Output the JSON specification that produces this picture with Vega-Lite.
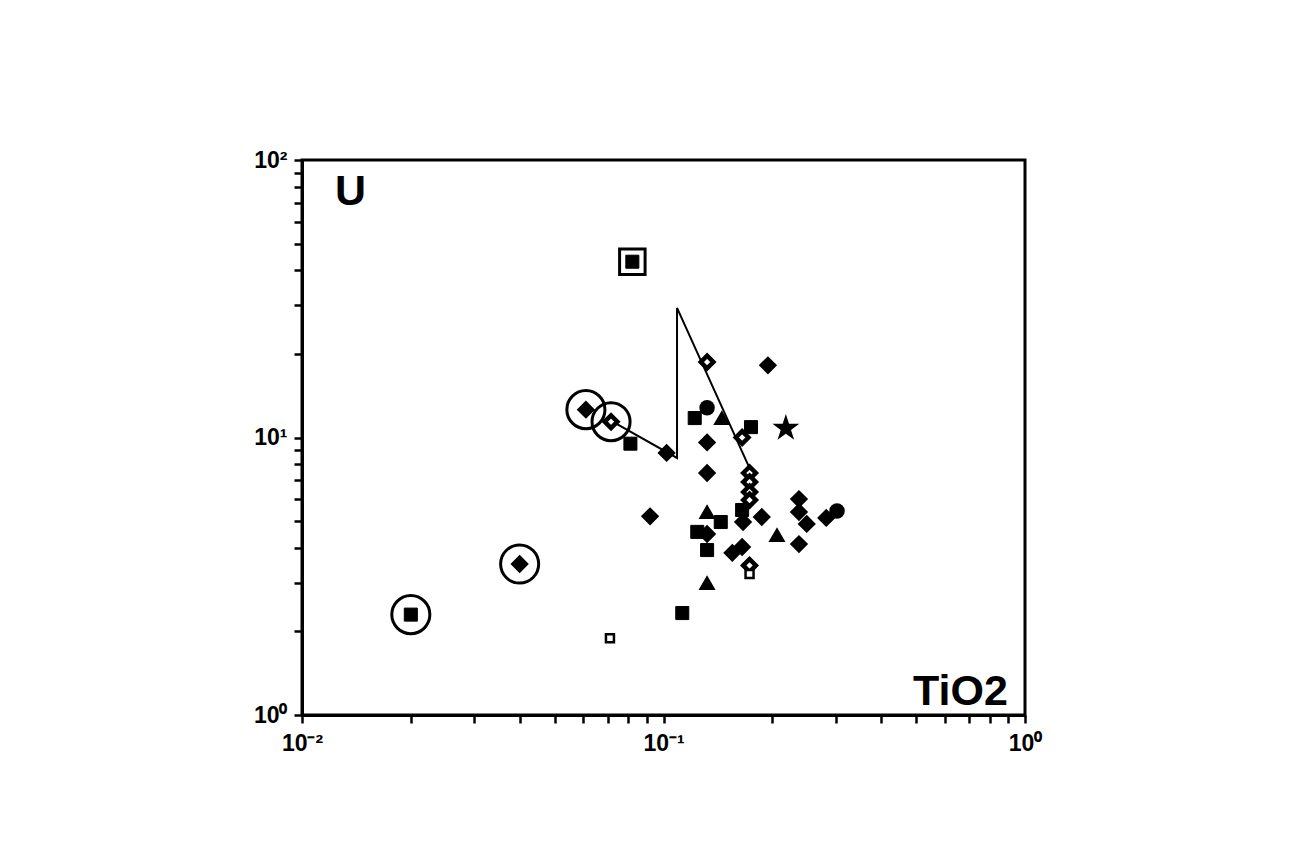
{
  "$schema": "https://vega.github.io/schema/vega-lite/v6.json",
  "autosize": "none",
  "padding": {"left": 302, "top": 160, "right": 264, "bottom": 148},
  "width": 723,
  "height": 555,
  "background": "white",
  "config": {
    "view": {"stroke": "black", "strokeWidth": 3},
    "axis": {
      "grid": false,
      "domainColor": "black",
      "domainWidth": 3,
      "tickColor": "black",
      "tickWidth": 2.5,
      "tickSize": 8,
      "labelColor": "black",
      "labelOverlap": false,
      "labelFlush": false
    }
  },
  "datasets": {
    "pts": [
      {"x": 0.02, "y": 2.3, "sym": "S", "halo": "ring"},
      {"x": 0.04, "y": 3.5, "sym": "D", "halo": "ring"},
      {"x": 0.061, "y": 12.6, "sym": "D", "halo": "ring"},
      {"x": 0.0716, "y": 11.4, "sym": "OD", "halo": "ring"},
      {"x": 0.082, "y": 43, "sym": "S", "halo": "box"},
      {"x": 0.081, "y": 9.5, "sym": "S", "halo": "none"},
      {"x": 0.102, "y": 8.8, "sym": "D", "halo": "none"},
      {"x": 0.0711, "y": 1.89, "sym": "OS", "halo": "none"},
      {"x": 0.0918, "y": 5.2, "sym": "D", "halo": "none"},
      {"x": 0.1127, "y": 2.33, "sym": "S", "halo": "none"},
      {"x": 0.132, "y": 18.7, "sym": "OD", "halo": "none"},
      {"x": 0.1945, "y": 18.2, "sym": "D", "halo": "none"},
      {"x": 0.132, "y": 12.8, "sym": "C", "halo": "none"},
      {"x": 0.122, "y": 11.75, "sym": "S", "halo": "none"},
      {"x": 0.145, "y": 11.75, "sym": "T", "halo": "none"},
      {"x": 0.1746, "y": 10.9, "sym": "S", "halo": "none"},
      {"x": 0.165, "y": 10.0, "sym": "OD", "halo": "none"},
      {"x": 0.218, "y": 10.8, "sym": "ST", "halo": "none"},
      {"x": 0.132, "y": 9.6, "sym": "D", "halo": "none"},
      {"x": 0.132, "y": 7.45, "sym": "D", "halo": "none"},
      {"x": 0.173, "y": 7.45, "sym": "OD", "halo": "none"},
      {"x": 0.173, "y": 6.91, "sym": "OD", "halo": "none"},
      {"x": 0.173, "y": 6.36, "sym": "OD", "halo": "none"},
      {"x": 0.173, "y": 5.95, "sym": "OD", "halo": "none"},
      {"x": 0.165, "y": 5.48, "sym": "S", "halo": "none"},
      {"x": 0.166, "y": 4.96, "sym": "D", "halo": "none"},
      {"x": 0.187, "y": 5.17, "sym": "D", "halo": "none"},
      {"x": 0.132, "y": 5.39, "sym": "T", "halo": "none"},
      {"x": 0.144, "y": 4.96, "sym": "S", "halo": "none"},
      {"x": 0.124, "y": 4.57, "sym": "S", "halo": "none"},
      {"x": 0.132, "y": 4.49, "sym": "D", "halo": "none"},
      {"x": 0.206, "y": 4.45, "sym": "T", "halo": "none"},
      {"x": 0.132, "y": 3.93, "sym": "S", "halo": "none"},
      {"x": 0.155, "y": 3.84, "sym": "D", "halo": "none"},
      {"x": 0.165, "y": 4.03, "sym": "D", "halo": "none"},
      {"x": 0.173, "y": 3.46, "sym": "OD", "halo": "none"},
      {"x": 0.173, "y": 3.22, "sym": "OS", "halo": "none"},
      {"x": 0.132, "y": 2.99, "sym": "T", "halo": "none"},
      {"x": 0.237, "y": 6.0, "sym": "D", "halo": "none"},
      {"x": 0.237, "y": 5.39, "sym": "D", "halo": "none"},
      {"x": 0.249, "y": 4.88, "sym": "D", "halo": "none"},
      {"x": 0.282, "y": 5.13, "sym": "D", "halo": "none"},
      {"x": 0.302, "y": 5.43, "sym": "C", "halo": "none"},
      {"x": 0.237, "y": 4.13, "sym": "D", "halo": "none"}
    ],
    "trend": [
      {"x": 0.0711, "y": 11.56, "order": 1},
      {"x": 0.109, "y": 8.44, "order": 2},
      {"x": 0.109, "y": 29.3, "order": 3},
      {"x": 0.173, "y": 7.76, "order": 4}
    ],
    "labels": [
      {"x": 0.01234, "y": 68.8, "t": "U", "pos": "left"},
      {"x": 0.897, "y": 1.087, "t": "TiO2", "pos": "right"}
    ]
  },
  "encoding": {
    "x": {
      "field": "x", "type": "quantitative", "title": null,
      "scale": {"type": "log", "domain": [0.01, 1], "nice": false},
      "axis": {
        "values": [0.01, 0.02, 0.03, 0.04, 0.05, 0.06, 0.07, 0.08, 0.09, 0.1, 0.2, 0.3, 0.4, 0.5, 0.6, 0.7, 0.8, 0.9, 1],
        "labelExpr": "datum.value == 0.01 ? '10⁻²' : datum.value == 0.1 ? '10⁻¹' : datum.value == 1 ? '10⁰' : ''",
        "labelFont": "Liberation Sans",
        "labelFontWeight": "bold",
        "labelFontSize": 23,
        "labelPadding": 9
      }
    },
    "y": {
      "field": "y", "type": "quantitative", "title": null,
      "scale": {"type": "log", "domain": [1, 100], "nice": false},
      "axis": {
        "values": [1, 2, 3, 4, 5, 6, 7, 8, 9, 10, 20, 30, 40, 50, 60, 70, 80, 90, 100],
        "labelExpr": "datum.value == 1 ? '10⁰' : datum.value == 10 ? '10¹' : datum.value == 100 ? '10²' : ''",
        "labelFont": "Liberation Sans",
        "labelFontWeight": "bold",
        "labelFontSize": 23,
        "labelPadding": 7
      }
    }
  },
  "layer": [
    {
      "data": {"name": "trend"},
      "mark": {"type": "line", "color": "black", "strokeWidth": 2},
      "encoding": {"order": {"field": "order", "type": "quantitative"}}
    },
    {
      "data": {"name": "labels"},
      "transform": [{"filter": "datum.pos == 'left'"}],
      "mark": {"type": "text", "align": "left", "baseline": "alphabetic", "font": "Liberation Sans", "fontWeight": "bold", "fontSize": 43, "color": "black"},
      "encoding": {"text": {"field": "t"}}
    },
    {
      "data": {"name": "labels"},
      "transform": [{"filter": "datum.pos == 'right'"}],
      "mark": {"type": "text", "align": "right", "baseline": "alphabetic", "font": "Liberation Sans", "fontWeight": "bold", "fontSize": 43, "color": "black"},
      "encoding": {"text": {"field": "t"}}
    },
    {
      "data": {"name": "pts"},
      "transform": [{"filter": "datum.halo == 'ring'"}],
      "mark": {"type": "point", "shape": "circle", "size": 1450, "filled": false, "color": "black", "strokeWidth": 3, "opacity": 1}
    },
    {
      "data": {"name": "pts"},
      "transform": [{"filter": "datum.halo == 'box'"}],
      "mark": {"type": "point", "shape": "square", "size": 650, "filled": false, "color": "black", "strokeWidth": 3, "opacity": 1}
    },
    {
      "data": {"name": "pts"},
      "transform": [{"filter": "datum.sym == 'D'"}],
      "mark": {"type": "point", "shape": "diamond", "size": 240, "filled": true, "color": "black", "stroke": "black", "strokeWidth": 2, "opacity": 1}
    },
    {
      "data": {"name": "pts"},
      "transform": [{"filter": "datum.sym == 'S'"}],
      "mark": {"type": "point", "shape": "square", "size": 170, "filled": true, "color": "black", "stroke": "black", "strokeWidth": 1, "opacity": 1}
    },
    {
      "data": {"name": "pts"},
      "transform": [{"filter": "datum.sym == 'T'"}],
      "mark": {"type": "point", "shape": "triangle-up", "size": 210, "filled": true, "color": "black", "stroke": "black", "strokeWidth": 1.5, "opacity": 1}
    },
    {
      "data": {"name": "pts"},
      "transform": [{"filter": "datum.sym == 'C'"}],
      "mark": {"type": "point", "shape": "circle", "size": 240, "filled": true, "color": "black", "opacity": 1}
    },
    {
      "data": {"name": "pts"},
      "transform": [{"filter": "datum.sym == 'OD'"}],
      "mark": {"type": "point", "shape": "diamond", "size": 160, "fill": "white", "fillOpacity": 1, "stroke": "black", "strokeWidth": 4.5, "opacity": 1}
    },
    {
      "data": {"name": "pts"},
      "transform": [{"filter": "datum.sym == 'OS'"}],
      "mark": {"type": "point", "shape": "square", "size": 64, "fill": "white", "fillOpacity": 1, "stroke": "black", "strokeWidth": 2.5, "opacity": 1}
    },
    {
      "data": {"name": "pts"},
      "transform": [{"filter": "datum.sym == 'ST'"}],
      "mark": {"type": "point", "shape": "M0,-1L0.2245,-0.309L0.951,-0.309L0.363,0.118L0.588,0.809L0,0.382L-0.588,0.809L-0.363,0.118L-0.951,-0.309L-0.2245,-0.309Z", "size": 800, "filled": true, "color": "black", "opacity": 1}
    }
  ]
}
